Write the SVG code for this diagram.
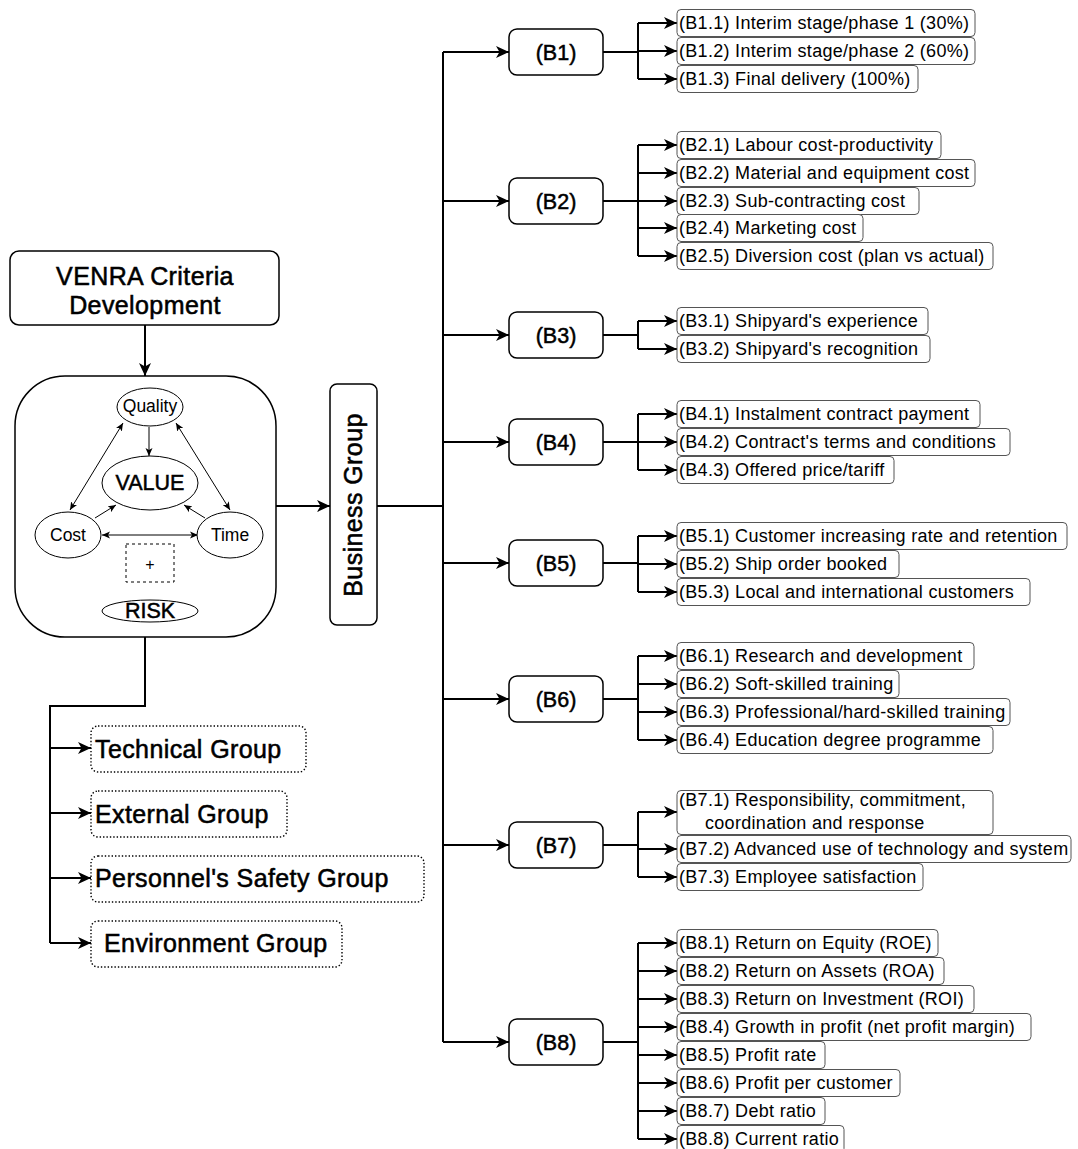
<svg xmlns="http://www.w3.org/2000/svg" width="1078" height="1149" viewBox="0 0 1078 1149">
<style>
text{font-family:"Liberation Sans",Arial,Helvetica,sans-serif;fill:#000}
.big{font-size:25px;letter-spacing:0.4px;stroke:#000;stroke-width:0.55}
.bl{font-size:21.5px;stroke:#000;stroke-width:0.5}
.it{font-size:18px;letter-spacing:0.3px}
.sm{font-size:17.5px}
.box{fill:#fff;stroke:#000;stroke-width:1.5}
.item{fill:#fff;stroke:#555;stroke-width:1}
.dot{fill:#fff;stroke:#000;stroke-width:1.4;stroke-dasharray:1.4 2}
.ln{fill:none;stroke:#000;stroke-width:2}
.thin{fill:none;stroke:#000;stroke-width:1}
.ell{fill:#fff;stroke:#000;stroke-width:1}
.dash{fill:#fff;stroke:#000;stroke-width:1;stroke-dasharray:3 3}
</style>
<defs>
<marker id="ah" markerUnits="userSpaceOnUse" markerWidth="14" markerHeight="12" refX="13" refY="6" orient="auto">
<path d="M0,0 L13,6 L0,12 L3.5,6 z" fill="#000"/>
</marker>
<marker id="sh" markerUnits="userSpaceOnUse" markerWidth="9" markerHeight="8" refX="8" refY="4" orient="auto-start-reverse">
<path d="M0,0.5 L8,4 L0,7.5 L2,4 z" fill="#000"/>
</marker>
</defs>
<rect width="1078" height="1149" fill="#fff"/>

<!-- value/risk core container (drawn first so its inner links stay visible) -->
<g id="core">
<rect class="box" x="15" y="376" width="261" height="261" rx="50"/>
</g>

<!-- connectors -->
<g id="connectors">
<!-- left side -->
<path class="ln" d="M145,325 V376" marker-end="url(#ah)"/>
<path class="ln" d="M276,506 H330" marker-end="url(#ah)"/>
<path class="ln" d="M145,637 V706 H50 V943"/>
<path class="ln" d="M50,748 H91" marker-end="url(#ah)"/>
<path class="ln" d="M50,813 H91" marker-end="url(#ah)"/>
<path class="ln" d="M50,878 H91" marker-end="url(#ah)"/>
<path class="ln" d="M50,943 H91" marker-end="url(#ah)"/>
<!-- value triangle -->
<path class="thin" d="M149,427 V456" marker-end="url(#sh)"/>
<path class="thin" d="M123,423 L70,510" marker-start="url(#sh)" marker-end="url(#sh)"/>
<path class="thin" d="M176,423 L230,510" marker-start="url(#sh)" marker-end="url(#sh)"/>
<path class="thin" d="M95,518 L116,505" marker-end="url(#sh)"/>
<path class="thin" d="M205,518 L184,505" marker-end="url(#sh)"/>
<path class="thin" d="M102,535 H198" marker-start="url(#sh)" marker-end="url(#sh)"/>
<!-- trunk -->
<path class="ln" d="M377,506 H443"/>
<path class="ln" d="M443,52 V1042"/>
<path class="ln" d="M443,52 H509" marker-end="url(#ah)"/>
<path class="ln" d="M443,201 H509" marker-end="url(#ah)"/>
<path class="ln" d="M443,335 H509" marker-end="url(#ah)"/>
<path class="ln" d="M443,442 H509" marker-end="url(#ah)"/>
<path class="ln" d="M443,563 H509" marker-end="url(#ah)"/>
<path class="ln" d="M443,699 H509" marker-end="url(#ah)"/>
<path class="ln" d="M443,845 H509" marker-end="url(#ah)"/>
<path class="ln" d="M443,1042 H509" marker-end="url(#ah)"/>
<!-- B1 -->
<path class="ln" d="M603,52 H638 M638,23 V79"/>
<path class="ln" d="M638,23 H677" marker-end="url(#ah)"/>
<path class="ln" d="M638,51 H677" marker-end="url(#ah)"/>
<path class="ln" d="M638,79 H677" marker-end="url(#ah)"/>
<!-- B2 -->
<path class="ln" d="M603,201 H638 M638,145 V256"/>
<path class="ln" d="M638,145 H677" marker-end="url(#ah)"/>
<path class="ln" d="M638,173 H677" marker-end="url(#ah)"/>
<path class="ln" d="M638,201 H677" marker-end="url(#ah)"/>
<path class="ln" d="M638,228 H677" marker-end="url(#ah)"/>
<path class="ln" d="M638,256 H677" marker-end="url(#ah)"/>
<!-- B3 -->
<path class="ln" d="M603,335 H638 M638,321 V349"/>
<path class="ln" d="M638,321 H677" marker-end="url(#ah)"/>
<path class="ln" d="M638,349 H677" marker-end="url(#ah)"/>
<!-- B4 -->
<path class="ln" d="M603,442 H638 M638,414 V470"/>
<path class="ln" d="M638,414 H677" marker-end="url(#ah)"/>
<path class="ln" d="M638,442 H677" marker-end="url(#ah)"/>
<path class="ln" d="M638,470 H677" marker-end="url(#ah)"/>
<!-- B5 -->
<path class="ln" d="M603,563 H638 M638,536 V592"/>
<path class="ln" d="M638,536 H677" marker-end="url(#ah)"/>
<path class="ln" d="M638,564 H677" marker-end="url(#ah)"/>
<path class="ln" d="M638,592 H677" marker-end="url(#ah)"/>
<!-- B6 -->
<path class="ln" d="M603,699 H638 M638,656 V740"/>
<path class="ln" d="M638,656 H677" marker-end="url(#ah)"/>
<path class="ln" d="M638,684 H677" marker-end="url(#ah)"/>
<path class="ln" d="M638,712 H677" marker-end="url(#ah)"/>
<path class="ln" d="M638,740 H677" marker-end="url(#ah)"/>
<!-- B7 -->
<path class="ln" d="M603,845 H638 M638,812 V877"/>
<path class="ln" d="M638,812 H677" marker-end="url(#ah)"/>
<path class="ln" d="M638,849 H677" marker-end="url(#ah)"/>
<path class="ln" d="M638,877 H677" marker-end="url(#ah)"/>
<!-- B8 -->
<path class="ln" d="M603,1042 H638 M638,943 V1139"/>
<path class="ln" d="M638,943 H677" marker-end="url(#ah)"/>
<path class="ln" d="M638,971 H677" marker-end="url(#ah)"/>
<path class="ln" d="M638,999 H677" marker-end="url(#ah)"/>
<path class="ln" d="M638,1027 H677" marker-end="url(#ah)"/>
<path class="ln" d="M638,1055 H677" marker-end="url(#ah)"/>
<path class="ln" d="M638,1083 H677" marker-end="url(#ah)"/>
<path class="ln" d="M638,1111 H677" marker-end="url(#ah)"/>
<path class="ln" d="M638,1139 H677" marker-end="url(#ah)"/>
</g>

<!-- source node -->
<g id="venra">
<rect class="box" x="10" y="251" width="269" height="74" rx="9"/>
<text class="big" x="145" y="285" text-anchor="middle">VENRA Criteria</text>
<text class="big" x="145" y="314" text-anchor="middle">Development</text>
</g>

<!-- value triangle nodes -->
<g id="quality"><ellipse class="ell" cx="150" cy="407" rx="33" ry="19"/><text class="sm" x="150" y="412" text-anchor="middle">Quality</text></g>
<g id="value"><ellipse class="ell" cx="150" cy="483" rx="48" ry="27"/><text class="bl" x="150" y="490" text-anchor="middle">VALUE</text></g>
<g id="cost"><ellipse class="ell" cx="68" cy="535" rx="33" ry="23"/><text class="sm" x="68" y="541" text-anchor="middle">Cost</text></g>
<g id="time"><ellipse class="ell" cx="230" cy="535" rx="33" ry="23"/><text class="sm" x="230" y="541" text-anchor="middle">Time</text></g>
<g id="plus"><rect class="dash" x="126" y="544" width="48" height="38"/><text x="150" y="570" text-anchor="middle" font-size="16">+</text></g>
<g id="risk"><ellipse class="ell" cx="150" cy="611" rx="48" ry="11"/><text class="bl" x="150" y="618" text-anchor="middle">RISK</text></g>

<!-- business group -->
<g id="business">
<rect class="box" x="330" y="384" width="47" height="241" rx="7"/>
<text class="big" transform="translate(362,505) rotate(-90)" text-anchor="middle">Business Group</text>
</g>

<!-- other groups -->
<g id="technical"><rect class="dot" x="91" y="726" width="215" height="46" rx="7"/><text class="big" x="95" y="758">Technical Group</text></g>
<g id="external"><rect class="dot" x="91" y="791" width="196" height="46" rx="7"/><text class="big" x="95" y="823">External Group</text></g>
<g id="personnel"><rect class="dot" x="91" y="856" width="333" height="46" rx="7"/><text class="big" x="95" y="887">Personnel's Safety Group</text></g>
<g id="environment"><rect class="dot" x="91" y="921" width="251" height="46" rx="7"/><text class="big" x="104" y="952">Environment Group</text></g>

<!-- business sub-groups -->
<g id="b1"><rect class="box" x="509" y="29" width="94" height="46" rx="8"/><text class="bl" x="556" y="60" text-anchor="middle">(B1)</text></g>
<g id="b2"><rect class="box" x="509" y="178" width="94" height="46" rx="8"/><text class="bl" x="556" y="209" text-anchor="middle">(B2)</text></g>
<g id="b3"><rect class="box" x="509" y="312" width="94" height="46" rx="8"/><text class="bl" x="556" y="343" text-anchor="middle">(B3)</text></g>
<g id="b4"><rect class="box" x="509" y="419" width="94" height="46" rx="8"/><text class="bl" x="556" y="450" text-anchor="middle">(B4)</text></g>
<g id="b5"><rect class="box" x="509" y="540" width="94" height="46" rx="8"/><text class="bl" x="556" y="571" text-anchor="middle">(B5)</text></g>
<g id="b6"><rect class="box" x="509" y="676" width="94" height="46" rx="8"/><text class="bl" x="556" y="707" text-anchor="middle">(B6)</text></g>
<g id="b7"><rect class="box" x="509" y="822" width="94" height="46" rx="8"/><text class="bl" x="556" y="853" text-anchor="middle">(B7)</text></g>
<g id="b8"><rect class="box" x="509" y="1019" width="94" height="46" rx="8"/><text class="bl" x="556" y="1050" text-anchor="middle">(B8)</text></g>

<!-- criteria items -->
<g id="b1-1"><rect class="item" x="677" y="9.5" width="298" height="27" rx="4"/><text class="it" x="679" y="29">(B1.1) Interim stage/phase 1 (30%)</text></g>
<g id="b1-2"><rect class="item" x="677" y="37.5" width="298" height="27" rx="4"/><text class="it" x="679" y="57">(B1.2) Interim stage/phase 2 (60%)</text></g>
<g id="b1-3"><rect class="item" x="677" y="65.5" width="241" height="27" rx="4"/><text class="it" x="679" y="85">(B1.3) Final delivery (100%)</text></g>

<g id="b2-1"><rect class="item" x="677" y="131.5" width="264" height="27" rx="4"/><text class="it" x="679" y="151">(B2.1) Labour cost-productivity</text></g>
<g id="b2-2"><rect class="item" x="677" y="159.5" width="298" height="27" rx="4"/><text class="it" x="679" y="179">(B2.2) Material and equipment cost</text></g>
<g id="b2-3"><rect class="item" x="677" y="187.5" width="242" height="27" rx="4"/><text class="it" x="679" y="207">(B2.3) Sub-contracting cost</text></g>
<g id="b2-4"><rect class="item" x="677" y="214.5" width="186" height="27" rx="4"/><text class="it" x="679" y="234">(B2.4) Marketing cost</text></g>
<g id="b2-5"><rect class="item" x="677" y="242.5" width="316" height="27" rx="4"/><text class="it" x="679" y="262">(B2.5) Diversion cost (plan vs actual)</text></g>

<g id="b3-1"><rect class="item" x="677" y="307.5" width="251" height="27" rx="4"/><text class="it" x="679" y="327">(B3.1) Shipyard's experience</text></g>
<g id="b3-2"><rect class="item" x="677" y="335.5" width="253" height="27" rx="4"/><text class="it" x="679" y="355">(B3.2) Shipyard's recognition</text></g>

<g id="b4-1"><rect class="item" x="677" y="400.5" width="303" height="27" rx="4"/><text class="it" x="679" y="420">(B4.1) Instalment contract payment</text></g>
<g id="b4-2"><rect class="item" x="677" y="428.5" width="333" height="27" rx="4"/><text class="it" x="679" y="448">(B4.2) Contract's terms and conditions</text></g>
<g id="b4-3"><rect class="item" x="677" y="456.5" width="217" height="27" rx="4"/><text class="it" x="679" y="476">(B4.3) Offered price/tariff</text></g>

<g id="b5-1"><rect class="item" x="677" y="522.5" width="390" height="27" rx="4"/><text class="it" x="679" y="542">(B5.1) Customer increasing rate and retention</text></g>
<g id="b5-2"><rect class="item" x="677" y="550.5" width="222" height="27" rx="4"/><text class="it" x="679" y="570">(B5.2) Ship order booked</text></g>
<g id="b5-3"><rect class="item" x="677" y="578.5" width="353" height="27" rx="4"/><text class="it" x="679" y="598">(B5.3) Local and international customers</text></g>

<g id="b6-1"><rect class="item" x="677" y="642.5" width="297" height="27" rx="4"/><text class="it" x="679" y="662">(B6.1) Research and development</text></g>
<g id="b6-2"><rect class="item" x="677" y="670.5" width="222" height="27" rx="4"/><text class="it" x="679" y="690">(B6.2) Soft-skilled training</text></g>
<g id="b6-3"><rect class="item" x="677" y="698.5" width="333" height="27" rx="4"/><text class="it" x="679" y="718">(B6.3) Professional/hard-skilled training</text></g>
<g id="b6-4"><rect class="item" x="677" y="726.5" width="316" height="27" rx="4"/><text class="it" x="679" y="746">(B6.4) Education degree programme</text></g>

<g id="b7-1"><rect class="item" x="677" y="790.5" width="316" height="44" rx="4"/><text class="it" x="679" y="806">(B7.1) Responsibility, commitment,</text><text class="it" x="705" y="829">coordination and response</text></g>
<g id="b7-2"><rect class="item" x="677" y="835.5" width="394" height="27" rx="4"/><text class="it" x="679" y="855">(B7.2) Advanced use of technology and system</text></g>
<g id="b7-3"><rect class="item" x="677" y="863.5" width="246" height="27" rx="4"/><text class="it" x="679" y="883">(B7.3) Employee satisfaction</text></g>

<g id="b8-1"><rect class="item" x="677" y="929.5" width="261" height="27" rx="4"/><text class="it" x="679" y="949">(B8.1) Return on Equity (ROE)</text></g>
<g id="b8-2"><rect class="item" x="677" y="957.5" width="267" height="27" rx="4"/><text class="it" x="679" y="977">(B8.2) Return on Assets (ROA)</text></g>
<g id="b8-3"><rect class="item" x="677" y="985.5" width="297" height="27" rx="4"/><text class="it" x="679" y="1005">(B8.3) Return on Investment (ROI)</text></g>
<g id="b8-4"><rect class="item" x="677" y="1013.5" width="354" height="27" rx="4"/><text class="it" x="679" y="1033">(B8.4) Growth in profit (net profit margin)</text></g>
<g id="b8-5"><rect class="item" x="677" y="1041.5" width="148" height="27" rx="4"/><text class="it" x="679" y="1061">(B8.5) Profit rate</text></g>
<g id="b8-6"><rect class="item" x="677" y="1069.5" width="223" height="27" rx="4"/><text class="it" x="679" y="1089">(B8.6) Profit per customer</text></g>
<g id="b8-7"><rect class="item" x="677" y="1097.5" width="148" height="27" rx="4"/><text class="it" x="679" y="1117">(B8.7) Debt ratio</text></g>
<g id="b8-8"><rect class="item" x="677" y="1125.5" width="167" height="27" rx="4"/><text class="it" x="679" y="1145">(B8.8) Current ratio</text></g>
</svg>
